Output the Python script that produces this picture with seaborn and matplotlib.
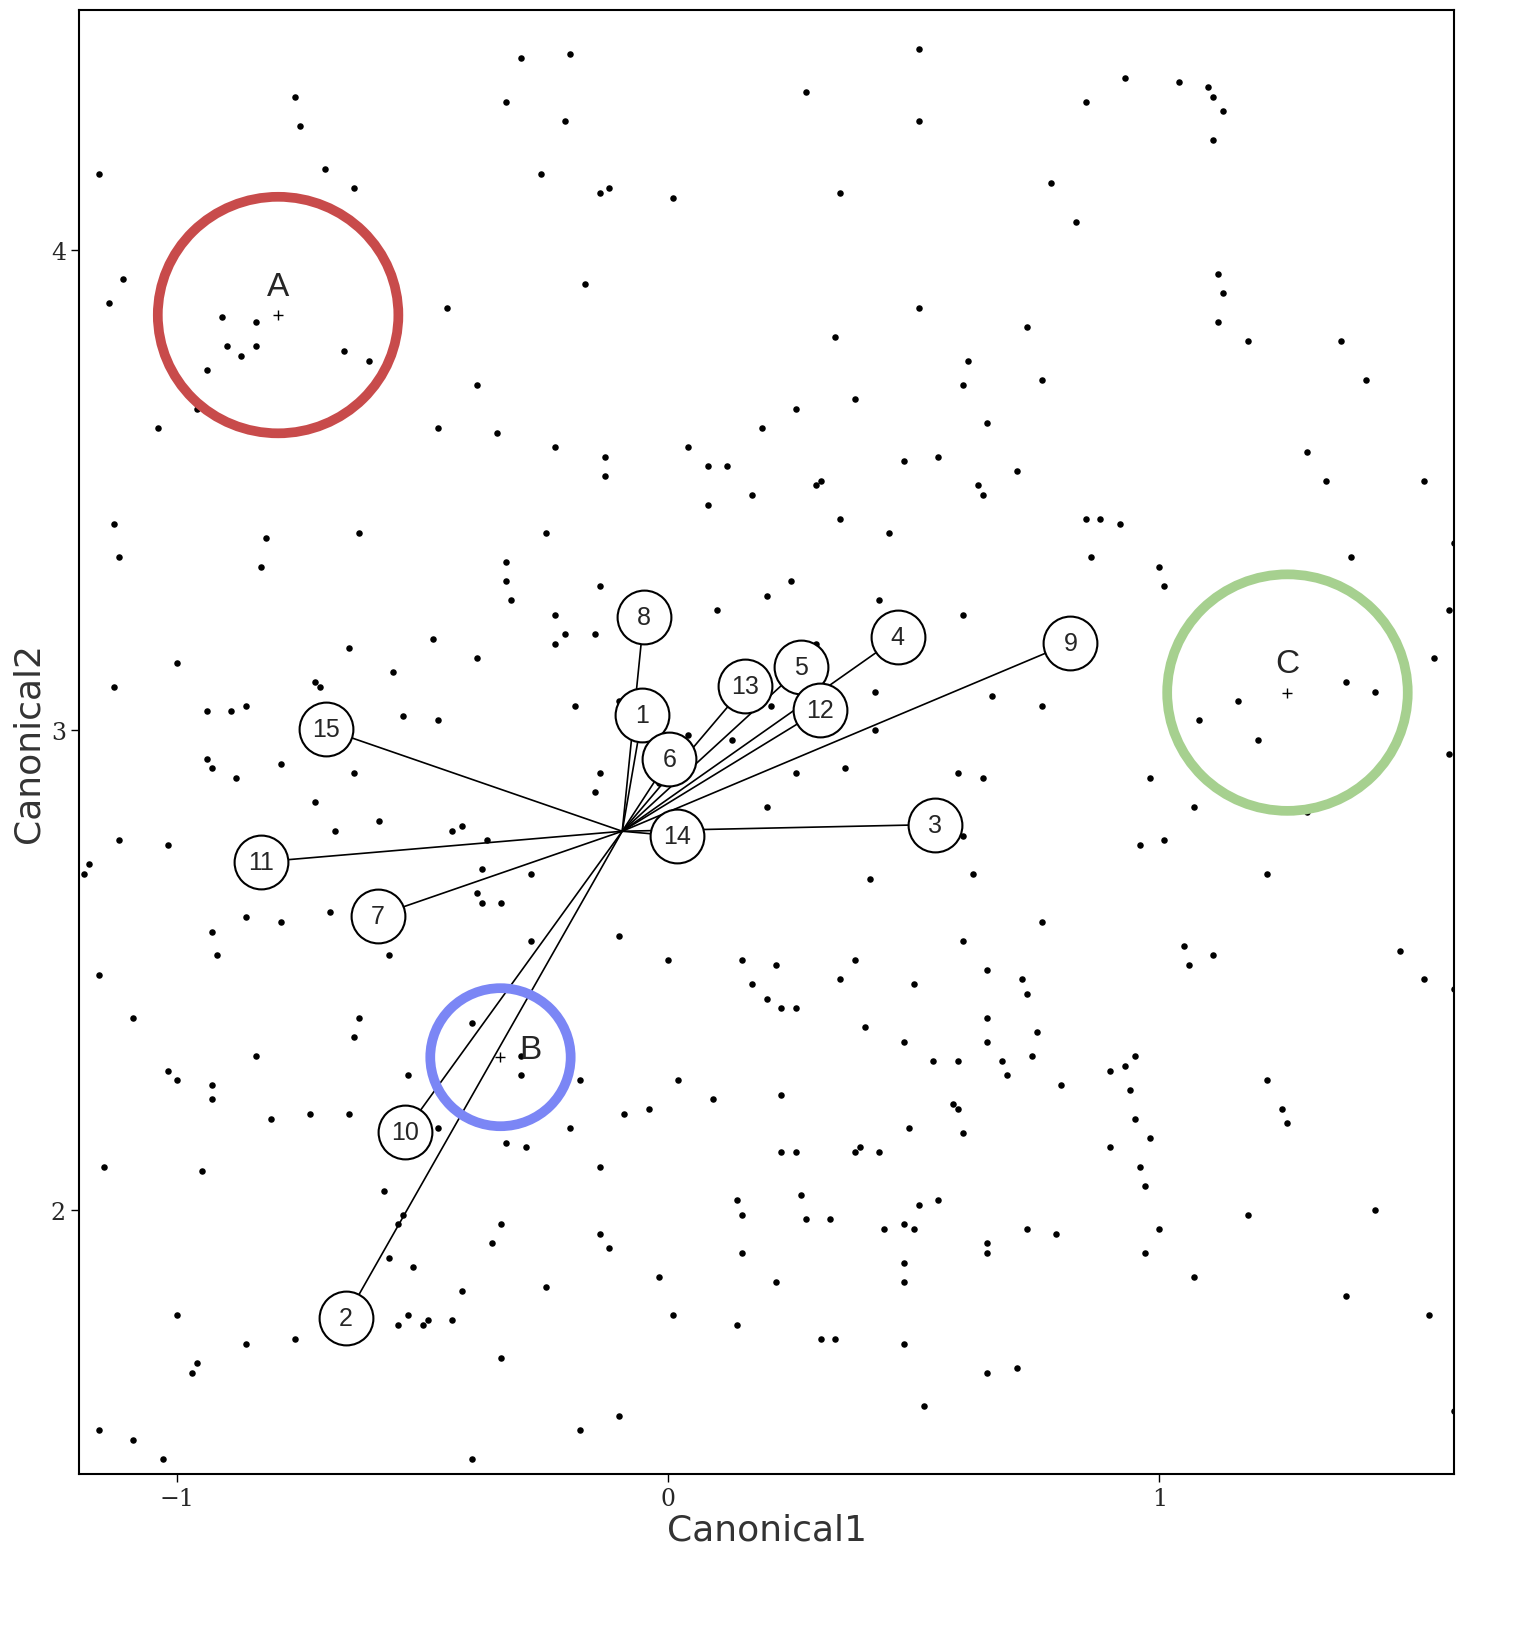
import matplotlib
matplotlib.use("Agg")
import matplotlib.pyplot as plt
import seaborn as sns
from matplotlib.patches import Ellipse

pts = [(-0.76,4.32),(-0.75,4.26),(-0.70,4.17),(-0.64,4.13),(-1.16,4.16),(-0.33,4.31),(-0.30,4.40),(-0.20,4.41),(-0.21,4.27),(-0.26,4.16),(-0.14,4.12),(-0.12,4.13),(0.01,4.11),(0.28,4.33),(0.35,4.12),(0.51,4.42),(0.51,4.27),(0.78,4.14),(0.83,4.06),(0.85,4.31),(0.93,4.36),(1.04,4.35),(1.10,4.34),(1.11,4.32),(1.13,4.29),(1.11,4.23),(-1.11,3.94),(-1.14,3.89),(-0.45,3.88),(-0.17,3.93),(1.12,3.95),(1.13,3.91),(1.12,3.85),(1.18,3.81),(0.51,3.88),(0.73,3.84),(1.37,3.81),(1.42,3.73),
(-0.84,3.85),(-0.91,3.86),(-0.90,3.80),(-0.87,3.78),(-0.84,3.80),(-0.66,3.79),(-0.94,3.75),(-0.61,3.77),(-1.04,3.63),(-0.96,3.67),
(-0.39,3.72),(-0.47,3.63),(-0.35,3.62),(-0.23,3.59),(-0.13,3.57),(-0.13,3.53),(0.04,3.59),(0.08,3.55),(0.12,3.55),(0.19,3.63),(0.26,3.67),(0.38,3.69),(0.55,3.57),(0.48,3.56),(0.60,3.72),(0.65,3.64),(0.61,3.77),(0.76,3.73),(0.34,3.82),(-0.25,3.41),(0.08,3.47),(0.17,3.49),(0.30,3.51),(0.31,3.52),(0.35,3.44),(0.45,3.41),(0.63,3.51),(0.64,3.49),(0.71,3.54),(0.85,3.44),(0.88,3.44),(0.92,3.43),(0.86,3.36),(1.30,3.58),(1.34,3.52),(1.54,3.52),(1.60,3.39),(-0.63,3.41),(-0.82,3.40),(-0.83,3.34),(-1.13,3.43),(-1.12,3.36),(-0.33,3.35),(-0.33,3.31),(-0.14,3.30),(0.10,3.25),(0.20,3.28),(0.25,3.31),(0.43,3.27),(0.30,3.18),(1.00,3.34),(1.01,3.30),(1.39,3.36),(1.59,3.25),(0.60,3.24),
(-0.65,3.17),(-0.56,3.12),(-0.48,3.19),(-0.39,3.15),(-0.21,3.20),(-0.23,3.18),(-0.15,3.20),(-0.23,3.24),(-0.32,3.27),(-0.72,3.10),(-0.71,3.09),(-1.00,3.14),(-1.13,3.09),(-0.94,3.04),(-0.89,3.04),(-0.86,3.05),(-0.54,3.03),(-0.47,3.02),(-0.94,2.94),(-0.93,2.92),(-0.88,2.90),(-0.79,2.93),(-0.70,2.96),(-0.64,2.91),(-0.72,2.85),(-0.59,2.81),(-0.10,3.06),(-0.19,3.05),(-0.02,2.89),(0.04,2.99),(0.13,2.98),(0.21,3.05),(0.34,3.04),(0.42,3.00),(0.42,3.08),(0.66,3.07),(0.76,3.05),(1.38,3.10),(1.44,3.08),(1.56,3.15),(1.59,2.95),(0.59,2.91),(0.55,2.84),(0.36,2.92),(0.26,2.91),(0.20,2.84),(-0.14,2.91),(-0.15,2.87),(0.64,2.90),(0.98,2.90),(1.20,2.98),(1.07,2.84),(1.30,2.83),
(1.16,3.06),(1.08,3.02),
(-1.18,2.72),(-1.12,2.77),(-1.02,2.76),(-0.68,2.79),(-0.42,2.80),(-0.44,2.79),(-0.37,2.77),(-0.38,2.71),(-0.39,2.66),(-0.28,2.70),(-0.38,2.64),(-0.34,2.64),(-1.19,2.70),(-0.93,2.58),(-0.86,2.61),(-0.79,2.60),(-0.69,2.62),(-0.92,2.53),(-0.57,2.53),(0.41,2.69),(0.62,2.70),(0.60,2.78),(0.96,2.76),(1.01,2.77),(1.22,2.70),(0.76,2.60),(0.60,2.56),(-0.10,2.57),(-0.28,2.56),(0.15,2.52),(0.22,2.51),(0.38,2.52),(0.17,2.47),(0.20,2.44),(0.35,2.48),(0.65,2.50),(0.72,2.48),(0.73,2.45),(1.05,2.55),(1.11,2.53),(1.06,2.51),(1.49,2.54),(1.54,2.48),(1.60,2.46),(-1.16,2.49),(0.00,2.52),(0.50,2.47),
(-1.09,2.40),(-0.63,2.40),(-0.40,2.39),(-0.30,2.32),(0.23,2.42),(0.26,2.42),(0.40,2.38),(0.48,2.35),(0.65,2.35),(0.75,2.37),(0.65,2.40),(0.74,2.32),(-0.64,2.36),(-0.84,2.32),(-1.02,2.29),(-1.00,2.27),(-0.93,2.26),(-0.93,2.23),(-0.53,2.28),(-0.30,2.28),(-0.18,2.27),(0.02,2.27),(0.54,2.31),(0.59,2.31),(0.68,2.31),(0.69,2.28),(0.58,2.22),(0.59,2.21),(0.80,2.26),(0.90,2.29),(0.93,2.30),(0.95,2.32),(0.94,2.25),(1.22,2.27),(1.25,2.21),(1.26,2.18),(0.09,2.23),(0.23,2.24),(-0.09,2.20),(-0.04,2.21),(-0.20,2.17),(-0.33,2.14),(-0.29,2.13),(-0.81,2.19),(-0.73,2.20),(-0.65,2.20),(-0.47,2.17),(0.49,2.17),(0.60,2.16),(0.95,2.19),(0.98,2.15),(0.90,2.13),(-1.15,2.09),(-0.95,2.08),(-0.14,2.09),(0.23,2.12),(0.26,2.12),(0.39,2.13),(0.38,2.12),(0.43,2.12),(0.96,2.09),(0.97,2.05),(0.14,2.02),(0.15,1.99),(0.27,2.03),(0.51,2.01),(0.55,2.02),(1.44,2.00),(0.73,1.96),(0.79,1.95),(-0.58,2.04),(-0.54,1.99),(-0.55,1.97),(0.28,1.98),(0.33,1.98),(0.44,1.96),(0.48,1.97),(0.50,1.96),(0.65,1.93),(1.00,1.96),(1.18,1.99),(-0.14,1.95),
(-0.57,1.90),(-0.52,1.88),(-0.36,1.93),(-0.12,1.92),(0.15,1.91),(0.48,1.89),(0.65,1.91),(0.97,1.91),(1.07,1.86),(-0.42,1.83),(-0.25,1.84),(-0.02,1.86),(0.22,1.85),(0.48,1.85),(-1.00,1.78),(-0.49,1.77),(-0.55,1.76),(-0.53,1.78),(-0.50,1.76),(-0.44,1.77),(0.01,1.78),(0.14,1.76),(0.31,1.73),(0.48,1.72),(0.34,1.73),(1.38,1.82),(-0.86,1.72),(-0.76,1.73),(-0.34,1.69),(-0.65,1.73),(-0.96,1.68),(-0.97,1.66),(0.65,1.66),(0.71,1.67),(1.60,1.58),(0.52,1.59),(-0.10,1.57),(-0.18,1.54),(-1.16,1.54),(-1.09,1.52),(-1.03,1.48),(-0.40,1.48),(1.55,1.78),(-0.34,1.97)]
pt_x = [p[0] for p in pts]
pt_y = [p[1] for p in pts]

origin = (-0.094, 2.789)
vec_labels = ["8","1","6","13","5","12","4","9","3","14","15","11","7","10","2"]
vec_x = [-0.050,-0.053,0.002,0.157,0.271,0.308,0.467,0.819,0.544,0.018,-0.697,-0.829,-0.592,-0.537,-0.657]
vec_y = [3.236,3.031,2.940,3.092,3.131,3.041,3.193,3.182,2.803,2.779,3.002,2.725,2.613,2.162,1.775]

grp_names = ["A","B","C"]
grp_x = [-0.795,-0.342,1.261]
grp_y = [3.865,2.318,3.078]
grp_r = [0.245,0.143,0.245]
grp_colors = ["#c84b4b","#7b86f5","#a6d08f"]

sns.set_style("white")
plt.rcParams['font.family'] = ['Liberation Sans', 'DejaVu Sans']
fig = plt.figure(figsize=(15.24,16.33), dpi=100)
ax = fig.add_axes([0.052,0.097,0.902,0.896])

sns.scatterplot(x=pt_x, y=pt_y, ax=ax, color="black", s=22, linewidth=0, zorder=2)

for lx, ly in zip(vec_x, vec_y):
    ax.plot([origin[0], lx], [origin[1], ly], color="black", lw=1.2, zorder=3)
sns.scatterplot(x=vec_x, y=vec_y, ax=ax, s=1500, color="white", edgecolor="black", linewidth=1.5, zorder=4)
for lab, lx, ly in zip(vec_labels, vec_x, vec_y):
    ax.text(lx, ly, lab, ha="center", va="center", fontsize=18, zorder=5)

for n, gx, gy, r, c in zip(grp_names, grp_x, grp_y, grp_r, grp_colors):
    ax.add_patch(Ellipse((gx, gy), 2*r, 2*r*491/488, fill=False, edgecolor=c, lw=7, zorder=6))
    ax.plot(gx, gy, marker="+", color="black", ms=7, mew=1, zorder=6)
    dx = 0.0 if n != "B" else 0.06
    dy = 0.06 if n != "B" else 0.015
    ax.text(gx + dx, gy + dy, n, ha="center", va="center", fontsize=24, zorder=7)

ax.set_xlim(-1.2, 1.6)
ax.set_ylim(1.45, 4.5)
ax.set_xticks([-1, 0, 1]); ax.set_xticklabels(["\u22121", "0", "1"], family="DejaVu Serif")
ax.set_yticks([2, 3, 4]); ax.set_yticklabels(["2", "3", "4"], family="DejaVu Serif")
ax.tick_params(direction="out", length=6, width=1, labelsize=17, bottom=True, left=True, color="black")
for s in ax.spines.values():
    s.set_color("black"); s.set_linewidth(1.5)
ax.set_xlabel("Canonical1", fontsize=26, color="#333333", labelpad=2, family="DejaVu Sans")
ax.set_ylabel("Canonical2", fontsize=26, color="#333333", family="DejaVu Sans")
fig.savefig("out.png", dpi=100)
